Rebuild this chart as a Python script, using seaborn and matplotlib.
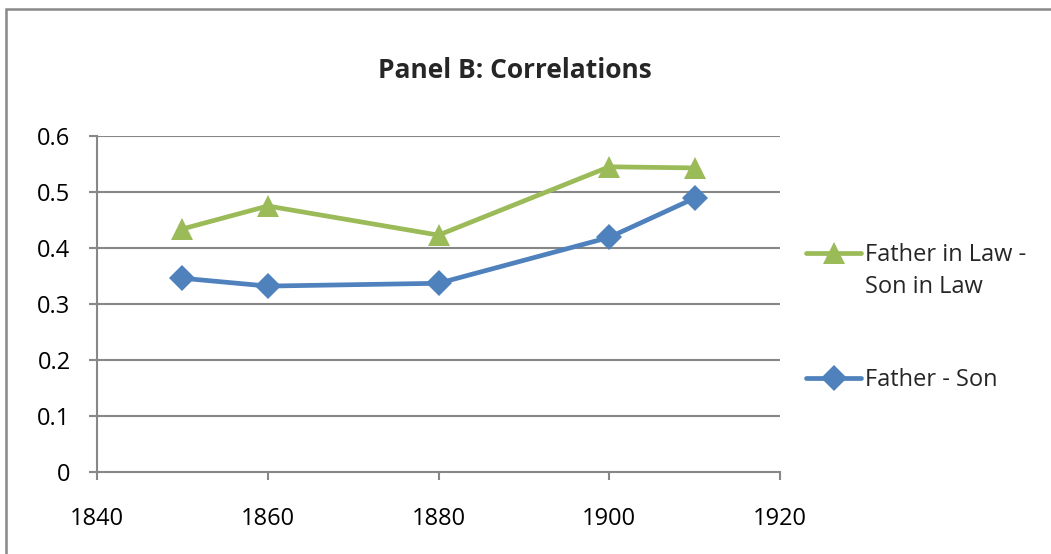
import matplotlib
matplotlib.use("Agg")
import matplotlib.pyplot as plt
import seaborn as sns
import pandas as pd
from matplotlib.lines import Line2D
from matplotlib.patches import Rectangle
from matplotlib.legend_handler import HandlerLine2D

years = [1850, 1860, 1880, 1900, 1910]
father_son = [0.346, 0.332, 0.337, 0.419, 0.489]
father_in_law = [0.434, 0.475, 0.423, 0.545, 0.543]
series_names = ["Father - Son", "Father in Law - Son in Law"]
legend_labels = ["Father in Law -\nSon in Law", "Father - Son"]
y_ticks = [0, 0.1, 0.2, 0.3, 0.4, 0.5, 0.6]
y_tick_labels = ["0", "0.1", "0.2", "0.3", "0.4", "0.5", "0.6"]
x_ticks = [1840, 1860, 1880, 1900, 1920]
title = "Panel B: Correlations"

df = pd.DataFrame({
    "year": years * 2,
    "value": father_son + father_in_law,
    "series": [series_names[0]] * len(years) + [series_names[1]] * len(years),
})

sns.set_style("white")
plt.rcParams["font.family"] = ["Open Sans", "DejaVu Sans"]

blue = "#4F81BD"
green = "#9BBB59"
grid_c = "#878787"
fs = 17

fig = plt.figure(figsize=(10.51, 5.54), dpi=100)
ax = fig.add_axes([97 / 1051, 82 / 554, (780 - 97) / 1051, (472 - 136) / 554])

sns.lineplot(data=df, x="year", y="value", hue="series", style="series",
             hue_order=series_names, style_order=series_names,
             palette={series_names[0]: blue, series_names[1]: green},
             markers={series_names[0]: "D", series_names[1]: "^"},
             dashes=False, linewidth=3.4, markersize=13, markeredgewidth=0,
             legend=False, ax=ax)
for ln in ax.lines:
    if ln.get_marker() == "^":
        ln.set_markersize(15.5)

ax.set_xlim(1840, 1920)
ax.set_ylim(0, 0.6)
ax.set_xticks(x_ticks)
ax.set_xticklabels([str(x) for x in x_ticks], fontsize=fs)
ax.set_yticks(y_ticks)
ax.set_yticklabels(y_tick_labels, fontsize=fs)
ax.set_xlabel("")
ax.set_ylabel("")
for y in y_ticks[1:]:
    ax.axhline(y, color=grid_c, lw=1.5, zorder=0)
for s in ["top", "right"]:
    ax.spines[s].set_visible(False)
for s in ["left", "bottom"]:
    ax.spines[s].set_color(grid_c)
    ax.spines[s].set_linewidth(1.5)
ax.tick_params(axis="both", direction="out", length=6, width=1.5, color=grid_c,
               colors="black")
ax.tick_params(axis="x", pad=19, bottom=True)
ax.tick_params(axis="y", pad=13, left=True)

fig.text(515 / 1051, 1 - 70 / 554, title, ha="center", va="center",
         fontsize=19, fontweight="bold")


class ShiftedHandler(HandlerLine2D):
    def __init__(self, dy=0.0, **kw):
        super().__init__(**kw)
        self.dy = dy

    def create_artists(self, legend, orig_handle, xdescent, ydescent, width,
                       height, fontsize, trans):
        arts = super().create_artists(legend, orig_handle, xdescent, ydescent,
                                      width, height, fontsize, trans)
        for a in arts:
            if hasattr(a, "get_ydata"):
                a.set_ydata([v + self.dy for v in a.get_ydata()])
        return arts


h_green = Line2D([], [], color=green, lw=3.4, marker="^", ms=15.5, mew=0)
h_blue = Line2D([], [], color=blue, lw=3.4, marker="D", ms=13, mew=0)
leg = fig.legend([h_green, h_blue], legend_labels, loc="upper left",
                 bbox_to_anchor=(806 / 1051, 1 - 243 / 554), frameon=False,
                 fontsize=fs, handlelength=2.35, handletextpad=0.15,
                 labelspacing=2.95, borderpad=0, borderaxespad=0,
                 handler_map={h_green: ShiftedHandler(dy=13.5)})
leg.get_texts()[0].set_linespacing(1.42)

fig.patches.append(Rectangle((6 / 1051, -0.1), 1.2, 1 - 9 / 554 + 0.1,
                             transform=fig.transFigure, fill=False,
                             edgecolor="#888888", lw=1.8))

fig.savefig("out.png", dpi=100)
